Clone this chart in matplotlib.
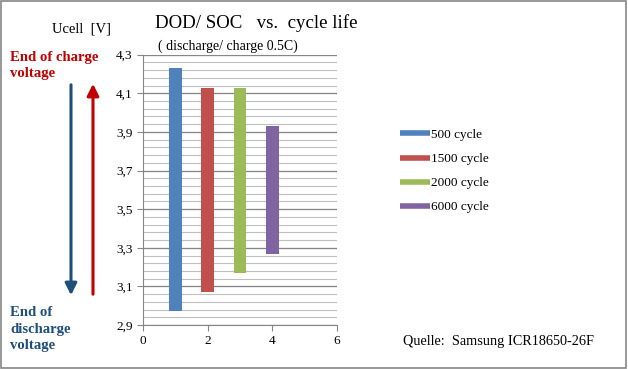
import matplotlib
matplotlib.use("Agg")
import matplotlib.pyplot as plt
from matplotlib.lines import Line2D
from matplotlib.patches import Rectangle, FancyArrowPatch
import numpy as np

# data
labels = ["500 cycle", "1500 cycle", "2000 cycle", "6000 cycle"]
x_pos = [1, 2, 3, 4]
v_top = [4.23, 4.13, 4.13, 3.93]
v_bottom = [2.97, 3.07, 3.17, 3.27]
colors = ["#4F81BD", "#C0504D", "#9BBB59", "#8064A2"]
y_ticks = [2.9, 3.1, 3.3, 3.5, 3.7, 3.9, 4.1, 4.3]
x_ticks = [0, 2, 4, 6]

plt.rcParams["font.family"] = ["Liberation Serif", "DejaVu Serif"]

fig = plt.figure(figsize=(6.28, 3.69), dpi=100)
ax = fig.add_axes([0.2277, 0.1192, 0.3089, 0.7326])

# minor and major grid lines
for v in np.arange(2.9, 4.3001, 0.04):
    ax.axhline(v, color="#BFBFBF", lw=0.8, zorder=0)
for v in y_ticks:
    ax.axhline(v, color="#868686", lw=0.9, zorder=1)

heights = [t - b for t, b in zip(v_top, v_bottom)]
ax.bar(x_pos, heights, bottom=v_bottom, width=0.4, color=colors, zorder=3)

ax.set_xlim(0, 6)
ax.set_ylim(2.9, 4.3)
ax.set_xticks(x_ticks)
ax.set_xticklabels([str(t) for t in x_ticks])
ax.set_yticks(y_ticks)
ax.set_yticklabels([f"{t:.1f}".replace(".", ",") for t in y_ticks])
ax.tick_params(labelsize=9.5, length=4, color="#868686")
ax.tick_params(axis="y", pad=3.5)
ax.tick_params(axis="x", pad=3)
for s in ["top", "right"]:
    ax.spines[s].set_visible(False)
for s in ["left", "bottom"]:
    ax.spines[s].set_color("#868686")

# texts
fig.text(155 / 628, 1 - 23 / 369, "DOD/ SOC   vs.  cycle life", fontsize=13.6, va="center")
fig.text(158 / 628, 1 - 46 / 369, "( discharge/ charge 0.5C)", fontsize=10, va="center")
fig.text(52 / 628, 1 - 29 / 369, "Ucell  [V]", fontsize=10.5, va="center")
fig.text(10 / 628, 1 - 65 / 369, "End of charge\nvoltage", fontsize=10.6, fontweight="bold",
         color="#C00000", va="center", linespacing=1.3)
fig.text(10 / 628, 1 - 329 / 369, "End of\ndischarge\nvoltage", fontsize=10.6, fontweight="bold",
         color="#1F4E79", va="center", linespacing=1.3)
fig.text(403 / 628, 1 - 341 / 369, "Quelle:  Samsung ICR18650-26F", fontsize=10.3, va="center")

# arrows
fig.patches.append(FancyArrowPatch((71 / 628, 1 - 82 / 369), (71 / 628, 1 - 298 / 369),
                                   transform=fig.transFigure, arrowstyle="-|>,head_length=7,head_width=3.5",
                                   color="#1F4E79", lw=2.2, mutation_scale=1))
fig.patches.append(FancyArrowPatch((93 / 628, 1 - 297 / 369), (93 / 628, 1 - 81 / 369),
                                   transform=fig.transFigure, arrowstyle="-|>,head_length=7,head_width=3.5",
                                   color="#C00000", lw=2.2, mutation_scale=1))

# legend
handles = [Line2D([0], [0], color=c, lw=4, solid_capstyle="butt") for c in colors]
fig.legend(handles, labels, loc="upper left", bbox_to_anchor=(388 / 628, 1 - 117 / 369),
           frameon=False, fontsize=9.5, handlelength=2.3, handletextpad=0.05, labelspacing=0.9)

# outer frame
fig.patches.append(Rectangle((0.001, 0.004), 0.996, 0.993, transform=fig.transFigure,
                             fill=False, edgecolor="#868686", lw=1.2))

fig.savefig("out.png", dpi=100)
